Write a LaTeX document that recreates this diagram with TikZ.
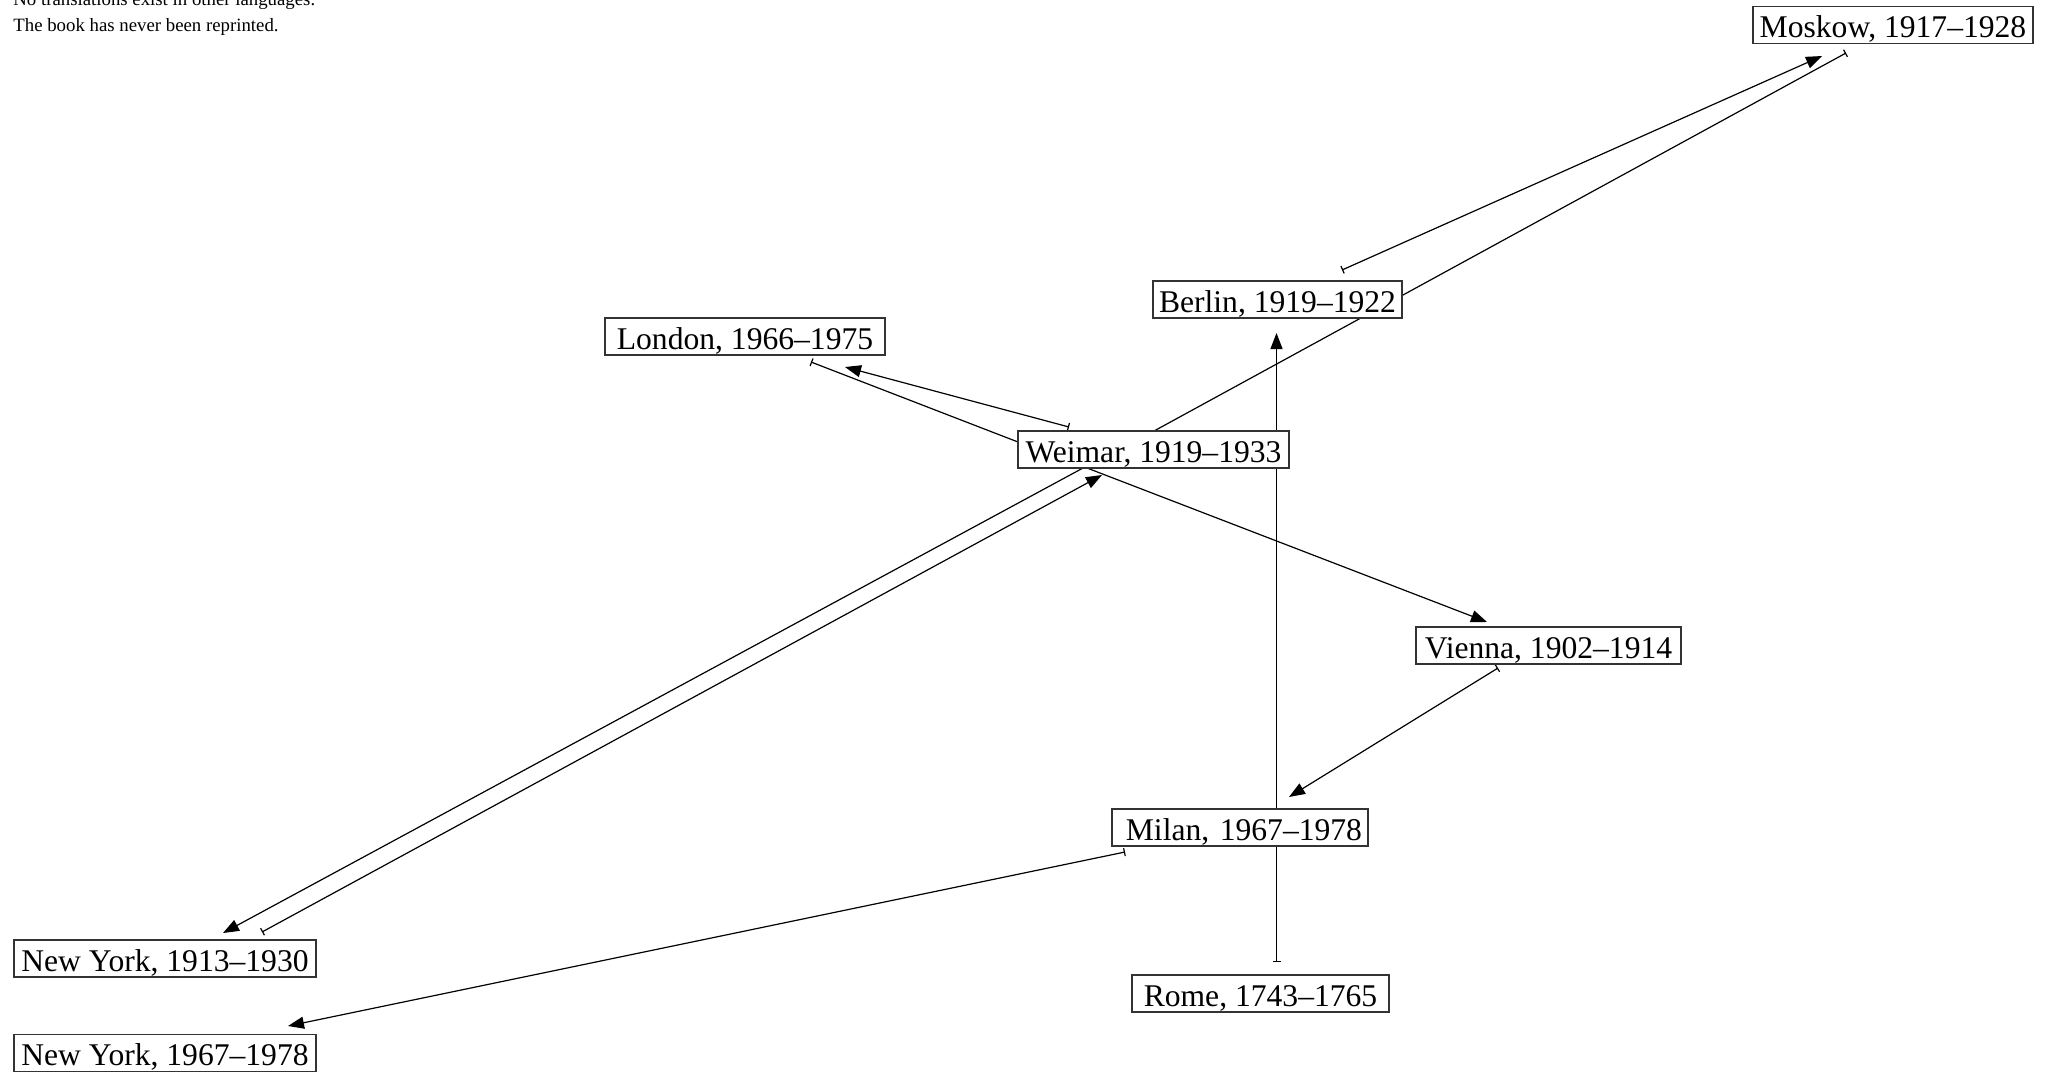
\documentclass[tikz,border=0pt]{standalone}
\usepackage{fontspec}
\setmainfont{Liberation Serif}
\usetikzlibrary{arrows.meta,backgrounds}
\begin{document}
\begin{tikzpicture}[x=0.5pt,y=-0.5pt,
  city/.style={draw=black!80, fill=white, line width=0.6pt, inner xsep=3pt, inner ysep=0pt,
    text height=15.5pt, text depth=3pt, font=\fontsize{15.8pt}{18pt}\selectfont},
  note/.style={anchor=base west, inner sep=0pt, font=\fontsize{9.4pt}{11pt}\selectfont},
  link/.style={line width=0.6pt},
  bartip/.style={link, {Bar[width=4pt,line width=0.6pt]}-{Triangle[length=8pt,width=6pt]}},
  plaintip/.style={link, -{Triangle[length=8pt,width=6pt]}},
  plainbar/.style={link, -{Bar[width=4pt,line width=0.6pt]}}
]
\useasboundingbox (0,0) rectangle (2049,1072);

% notes
\node[note] (n1) at (13,5.5) {No translations exist in other languages.};
\node[note] (n2) at (13,31.5) {The book has never been reprinted.};

% connector end points
\coordinate (b1) at (1342,270);   \coordinate (t1) at (1822,56);
\coordinate (p2) at (1154,431);   \coordinate (b2) at (1846,53);
\coordinate (b3) at (1069,427);   \coordinate (t3) at (845,367);
\coordinate (b4) at (811,362);    \coordinate (p4) at (1018,442);
\coordinate (p5) at (1087,468);   \coordinate (t5) at (1487,622);
\coordinate (b6) at (1498,668);   \coordinate (t6) at (1289,797);
\coordinate (b7) at (1276.5,962); \coordinate (t7) at (1276.5,333);
\coordinate (b8) at (1125,852);   \coordinate (t8) at (288,1026);
\coordinate (p9) at (1083,468);   \coordinate (t9) at (223,933);
\coordinate (b10) at (262,932);   \coordinate (t10) at (1102,475);

% connectors
\draw[bartip] (b1) -- (t1);
\draw[plainbar] (p2) -- (b2);
\draw[bartip] (b3) -- (t3);
\draw[link, {Bar[width=4pt,line width=0.6pt]}-] (b4) -- (p4);
\draw[plaintip] (p5) -- (t5);
\draw[bartip] (b6) -- (t6);
\draw[bartip] (b7) -- (t7);
\draw[bartip] (b8) -- (t8);
\draw[plaintip] (p9) -- (t9);
\draw[bartip] (b10) -- (t10);

% nodes
\node[city, minimum width=140pt] (moskow) at (1893,25) {Moskow, 1917--1928};
\node[city, minimum width=124.5pt] (berlin) at (1277.5,299.5) {Berlin, 1919--1922};
\node[city, minimum width=140pt] (london) at (745,336.5) {London, 1966--1975};
\node[city, minimum width=135.5pt] (weimar) at (1153.5,449.5) {Weimar, 1919--1933};
\node[city, minimum width=132.5pt] (vienna) at (1548.5,645.5) {Vienna, 1902--1914};
\node[city, text width=122pt, align=right] (milan) at (1240,827.5) {Milan, 1967--1978};
\node[city, minimum width=128.5pt] (rome) at (1260.5,993.5) {Rome, 1743--1765};
\node[city, minimum width=151pt] (ny1) at (165,958.5) {New York, 1913--1930};
\node[city, minimum width=151pt] (ny2) at (165,1053) {New York, 1967--1978};
\end{tikzpicture}
\end{document}
